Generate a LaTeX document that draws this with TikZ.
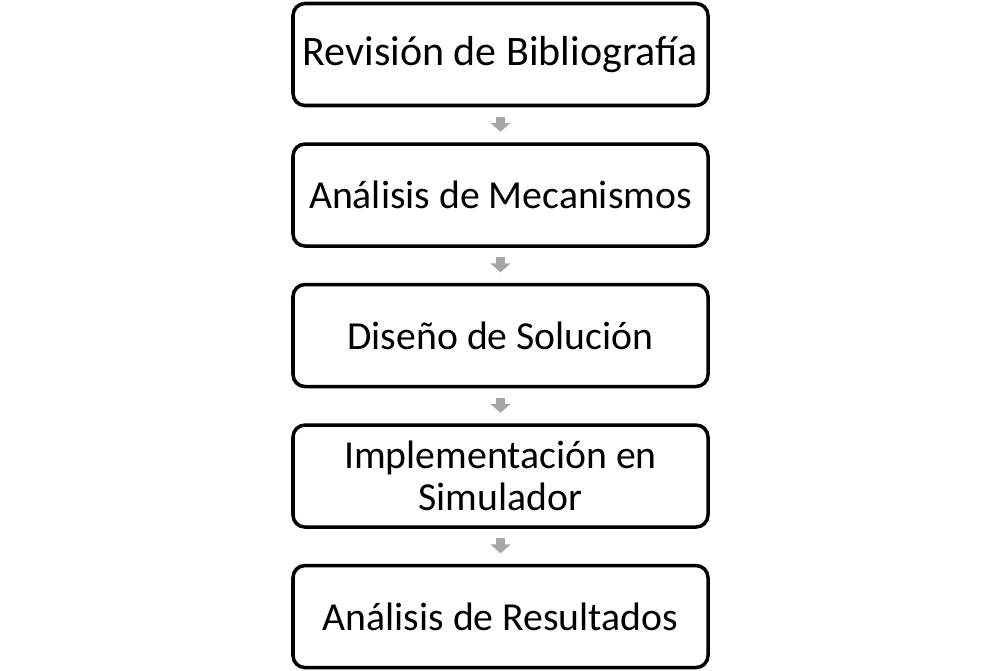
\documentclass[tikz,border=0pt]{standalone}
\usepackage{fontspec}
\setmainfont{Carlito}
\usetikzlibrary{positioning,arrows.meta}

\begin{document}
\begin{tikzpicture}[
		paso/.style={draw, line width=2pt, rounded corners=0.24cm, minimum width=8.3cm, minimum height=2.04cm, align=center, font=\fontsize{22.6}{24.2}\selectfont},
		flecha/.style={-{Triangle[width=0.4cm,length=0.18cm]}, line width=0.18cm, gray!70, shorten <=0.19cm, shorten >=0.21cm},
		node distance=0.70cm]
		\useasboundingbox (0,0) rectangle (20,-13.42);
		\node[paso, font=\fontsize{23.9}{26}\selectfont] (rev) at (10.01,-1.09) {Revisión de Bibliografía};
		\node[paso, below=of rev] (mec) {Análisis de Mecanismos};
		\node[paso, below=of mec] (dis) {Diseño de Solución};
		\node[paso, below=of dis] (imp) {Implementación en\\Simulador};
		\node[paso, below=of imp] (res) {Análisis de Resultados};
		\draw[flecha] (rev) -- (mec);
		\draw[flecha] (mec) -- (dis);
		\draw[flecha] (dis) -- (imp);
		\draw[flecha] (imp) -- (res);
\end{tikzpicture}
\end{document}
